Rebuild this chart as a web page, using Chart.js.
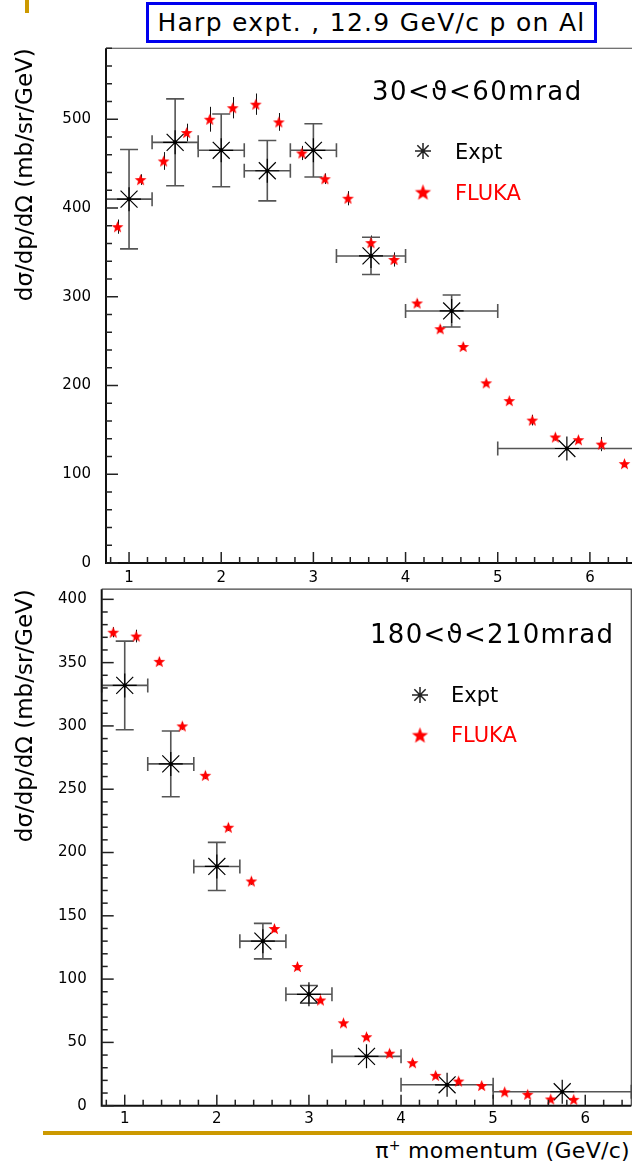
<!DOCTYPE html>
<html><head><meta charset="utf-8">
<script src="https://cdn.jsdelivr.net/npm/chart.js@4/dist/chart.umd.min.js"></script>
<style>
html,body{margin:0;padding:0;background:#fff;}
body{width:632px;height:1164px;overflow:hidden;position:relative;font-family:"DejaVu Sans",sans-serif;color:#000;}
.abs{position:absolute;white-space:nowrap;line-height:1.16;transform:translateY(-50%);}
#w1{position:absolute;left:0;top:0;width:640px;height:590px;}
#w2{position:absolute;left:0;top:585px;width:632px;height:545px;}
#title{position:absolute;left:146px;top:2px;width:445px;height:35px;border:3px solid #0000ee;text-align:center;line-height:35px;font-size:25px;letter-spacing:1.3px;background:#fff;}
#goldv{position:absolute;left:25px;top:0;width:4px;height:13px;background:#cc9900;}
#goldh{position:absolute;left:43px;top:1131px;width:589px;height:4px;background:#cc9900;}
</style></head>
<body>
<div id="goldv"></div>
<div id="w1"><canvas id="c1" width="640" height="590"></canvas></div>
<div id="w2"><canvas id="c2" width="632" height="545"></canvas></div>
<div id="title">Harp expt. , 12.9 GeV/c p on Al</div>
<div class="abs" style="left:372px;top:91px;font-size:26px;letter-spacing:1.5px;">30&lt;ϑ&lt;60mrad</div>
<div class="abs" style="left:455px;top:152px;font-size:21px;">Expt</div>
<div class="abs" style="left:455px;top:193px;font-size:21px;color:#ff0000;">FLUKA</div>
<div class="abs" style="left:370px;top:634px;font-size:26px;letter-spacing:1.3px;">180&lt;ϑ&lt;210mrad</div>
<div class="abs" style="left:451px;top:695px;font-size:21px;">Expt</div>
<div class="abs" style="left:451px;top:735px;font-size:21px;color:#ff0000;">FLUKA</div>
<div id="goldh"></div>
<div class="abs" style="right:2px;top:1150px;font-size:22px;letter-spacing:0.3px;">π<sup style="font-size:14px;">+</sup> momentum (GeV/c)</div>
<script>
// ---------- DATA ----------
// momentum bins of the experimental points (GeV/c)
const exptP  = [1.0, 1.5, 2.0, 2.5, 3.0, 3.625, 4.5, 5.75];
const exptLo = [0.75, 1.25, 1.75, 2.25, 2.75, 3.25, 4.0, 5.0];
const exptHi = [1.25, 1.75, 2.25, 2.75, 3.25, 4.0, 5.0, 6.5];
// 30 < theta < 60 mrad
const topExptVal = [410, 474, 465, 442, 465, 346, 284, 129];
const topExptErr = [56, 49, 41, 34, 30, 21, 18, 3];
const topFlukaP = [0.875, 1.125, 1.375, 1.625, 1.875, 2.125, 2.375, 2.625, 2.875, 3.125, 3.375, 3.625,
                   3.875, 4.125, 4.375, 4.625, 4.875, 5.125, 5.375, 5.625, 5.875, 6.125, 6.375];
const topFlukaVal = [379, 432, 453, 485, 500, 513, 517, 497, 462, 433, 411, 361,
                     342, 293, 264, 244, 203, 183, 161, 142, 139, 134, 112];
const topFlukaErr = [8, 6, 10, 10, 14, 12, 12, 10, 8, 6, 8, 8,
                     8, 4, 4, 4, 3, 3, 6, 4, 4, 8, 4];
// 180 < theta < 210 mrad
const botExptVal = [332, 270, 189, 130, 88, 39, 16.5, 11];
const botExptErr = [35, 26, 19, 14, 7, 3, 2, 2];
const botFlukaP = [0.875, 1.125, 1.375, 1.625, 1.875, 2.125, 2.375, 2.625, 2.875, 3.125, 3.375,
                   3.625, 3.875, 4.125, 4.375, 4.625, 4.875, 5.125, 5.375, 5.625, 5.875];
const botFlukaVal = [374, 371, 351, 300, 261, 220, 177.5, 140, 110, 83.5, 65.5,
                     54.5, 41.5, 34, 24, 19.5, 16, 11, 9, 5.3, 5];
const botFlukaErr = [4, 5, 3, 3, 3, 3, 3, 3, 3, 2, 2, 2, 2, 2, 2, 2, 2, 1, 1, 1, 1];

const yTitle = 'dσ/dp/dΩ (mb/sr/GeV)';
const FONT = 'DejaVu Sans';

// ---------- helpers ----------
function starPath(g, cx, cy, R) {
  const r = R * 0.42;
  g.beginPath();
  for (let i = 0; i < 10; i++) {
    const rad = (i % 2) ? r : R;
    const ang = -Math.PI / 2 + i * Math.PI / 5;
    g.lineTo(cx + rad * Math.cos(ang), cy + rad * Math.sin(ang));
  }
  g.closePath();
}
function makeStar(R) {
  const s = Math.ceil(R * 2 + 2);
  const c = document.createElement('canvas');
  c.width = s; c.height = s;
  const g = c.getContext('2d');
  g.fillStyle = '#ff0000';
  starPath(g, s / 2, s / 2 + R * 0.1, R);
  g.fill();
  return c;
}
const starSmall = makeStar(6.2);
const starLegend = makeStar(8.5);

const panelPlugin = {
  id: 'panel',
  beforeDatasetsDraw(chart, args, o) {
    const {ctx, scales: {x, y}} = chart;
    ctx.save();
    // FLUKA error bars
    ctx.strokeStyle = '#111'; ctx.lineWidth = 1;
    o.fP.forEach((p, i) => {
      const px = Math.round(x.getPixelForValue(p)) + 0.5;
      ctx.beginPath();
      ctx.moveTo(px, y.getPixelForValue(o.fV[i] + o.fE[i]));
      ctx.lineTo(px, y.getPixelForValue(o.fV[i] - o.fE[i]));
      ctx.stroke();
    });
    // Expt error bars
    ctx.strokeStyle = '#555'; ctx.lineWidth = 1.6;
    o.eP.forEach((p, i) => {
      const px = x.getPixelForValue(p), py = y.getPixelForValue(o.eV[i]);
      const x1 = x.getPixelForValue(o.eLo[i]), x2 = x.getPixelForValue(o.eHi[i]);
      const y1 = y.getPixelForValue(o.eV[i] + o.eE[i]), y2 = y.getPixelForValue(o.eV[i] - o.eE[i]);
      ctx.beginPath();
      ctx.moveTo(x1, py); ctx.lineTo(x2, py);
      ctx.moveTo(x1, py - 7); ctx.lineTo(x1, py + 7);
      ctx.moveTo(x2, py - 7); ctx.lineTo(x2, py + 7);
      if (y2 - y1 > 8) {
        ctx.moveTo(px, y1); ctx.lineTo(px, y2);
        ctx.moveTo(px - 9, y1); ctx.lineTo(px + 9, y1);
        ctx.moveTo(px - 9, y2); ctx.lineTo(px + 9, y2);
      }
      ctx.stroke();
    });
    ctx.restore();
  },
  afterDatasetsDraw(chart, args, o) {
    const {ctx, scales: {x, y}} = chart;
    ctx.save();
    ctx.fillStyle = '#000';
    o.eP.forEach((p, i) => {
      ctx.beginPath();
      ctx.arc(x.getPixelForValue(p), y.getPixelForValue(o.eV[i]), 2, 0, Math.PI * 2);
      ctx.fill();
    });
    ctx.restore();
  },
  afterDraw(chart, args, o) {
    const {ctx, chartArea: a, scales: {x, y}} = chart;
    ctx.save();
    ctx.strokeStyle = '#444'; ctx.lineWidth = 1.2;
    ctx.beginPath();
    ctx.moveTo(a.left, a.top); ctx.lineTo(a.right, a.top); ctx.lineTo(a.right, a.bottom);
    ctx.stroke();
    ctx.strokeStyle = '#111'; ctx.lineWidth = 2;
    ctx.beginPath();
    ctx.moveTo(a.left, a.top); ctx.lineTo(a.left, a.bottom); ctx.lineTo(a.right, a.bottom);
    ctx.stroke();
    ctx.strokeStyle = '#222'; ctx.lineWidth = 1.5;
    x.ticks.forEach(t => {
      const major = Math.abs(t.value - Math.round(t.value)) < 1e-6;
      const px = x.getPixelForValue(t.value);
      ctx.beginPath(); ctx.moveTo(px, a.bottom); ctx.lineTo(px, a.bottom - (major ? 11 : 6)); ctx.stroke();
    });
    y.ticks.forEach(t => {
      const major = t.value % o.yMajor === 0;
      const py = y.getPixelForValue(t.value);
      ctx.beginPath(); ctx.moveTo(a.left, py); ctx.lineTo(a.left + (major ? 12 : 6), py); ctx.stroke();
    });
    // legend markers
    Chart.helpers.drawPoint(ctx, {pointStyle: 'star', radius: 8, borderWidth: 1.2, rotation: 0},
      o.legX, o.legY1);
    ctx.drawImage(starLegend, o.legX - starLegend.width / 2, o.legY2 - starLegend.height / 2);
    ctx.restore();
  }
};

function xTickList() {
  const out = [];
  for (let k = 4; k <= 32; k++) out.push({value: Math.round(k * 2) / 10});
  return out;
}

function makePanel(id, c) {
  const ctx = document.getElementById(id);
  return new Chart(ctx, {
    type: 'scatter',
    data: {
      datasets: [
        {label: 'FLUKA', data: c.fP.map((p, i) => ({x: p, y: c.fV[i]})),
         pointStyle: starSmall, pointRadius: 6, showLine: false},
        {label: 'Expt', data: c.eP.map((p, i) => ({x: p, y: c.eV[i]})),
         pointStyle: 'star', pointRadius: 12, pointBorderWidth: 1.2,
         borderColor: '#000', backgroundColor: '#000', showLine: false}
      ]
    },
    options: {
      responsive: false, animation: false, events: [],
      layout: {autoPadding: false, padding: {top: c.padTop, right: c.padRight, left: 0, bottom: 0}},
      plugins: {
        legend: {display: false}, tooltip: {enabled: false},
        panel: {eP: c.eP, eV: c.eV, eE: c.eE, eLo: c.eLo, eHi: c.eHi,
                fP: c.fP, fV: c.fV, fE: c.fE, yMajor: c.yMajor,
                legX: c.legX, legY1: c.legY1, legY2: c.legY2}
      },
      scales: {
        x: {
          type: 'linear', min: 0.75, max: 6.5,
          grid: {display: false, drawTicks: false}, border: {display: false},
          afterBuildTicks: s => { s.ticks = xTickList(); },
          afterFit: s => { s.height = c.xHeight; s.paddingLeft = 0; s.paddingRight = 0; s.paddingTop = 0; s.paddingBottom = 0; },
          ticks: {autoSkip: false, maxRotation: 0, padding: c.xPad, color: '#000',
                  font: {family: FONT, size: 15},
                  callback: v => Math.abs(v - Math.round(v)) < 1e-6 ? String(Math.round(v)) : ''}
        },
        y: {
          type: 'linear', min: 0, max: c.yMax,
          grid: {display: false, drawTicks: false}, border: {display: false},
          afterBuildTicks: s => {
            const t = [];
            for (let v = 0; v <= c.yMax; v += c.yMinor) t.push({value: v});
            s.ticks = t;
          },
          afterFit: s => { s.width = c.yWidth; s.paddingLeft = 0; s.paddingRight = 0; s.paddingTop = 0; s.paddingBottom = 0; },
          ticks: {autoSkip: false, padding: 15, color: '#000', font: {family: FONT, size: 15},
                  callback: v => v % c.yMajor === 0 ? String(v) : ''},
          title: {display: true, text: yTitle, align: 'end', color: '#000',
                  font: {family: FONT, size: 23}, padding: {top: 12, bottom: 0}}
        }
      }
    },
    plugins: [panelPlugin]
  });
}

makePanel('c1', {
  eP: exptP, eV: topExptVal, eE: topExptErr, eLo: exptLo, eHi: exptHi,
  fP: topFlukaP, fV: topFlukaVal, fE: topFlukaErr,
  yMax: 580, yMajor: 100, yMinor: 20,
  padTop: 48.25, padRight: 4, yWidth: 106, xHeight: 27, xPad: 6,
  legX: 423, legY1: 151, legY2: 192
});
makePanel('c2', {
  eP: exptP, eV: botExptVal, eE: botExptErr, eLo: exptLo, eHi: exptHi,
  fP: botFlukaP, fV: botFlukaVal, fE: botFlukaErr,
  yMax: 408, yMajor: 50, yMinor: 10,
  padTop: 4.2, padRight: 0.7, yWidth: 101.7, xHeight: 24.3, xPad: 4,
  legX: 420, legY1: 110, legY2: 150
});
</script>
</body></html>
